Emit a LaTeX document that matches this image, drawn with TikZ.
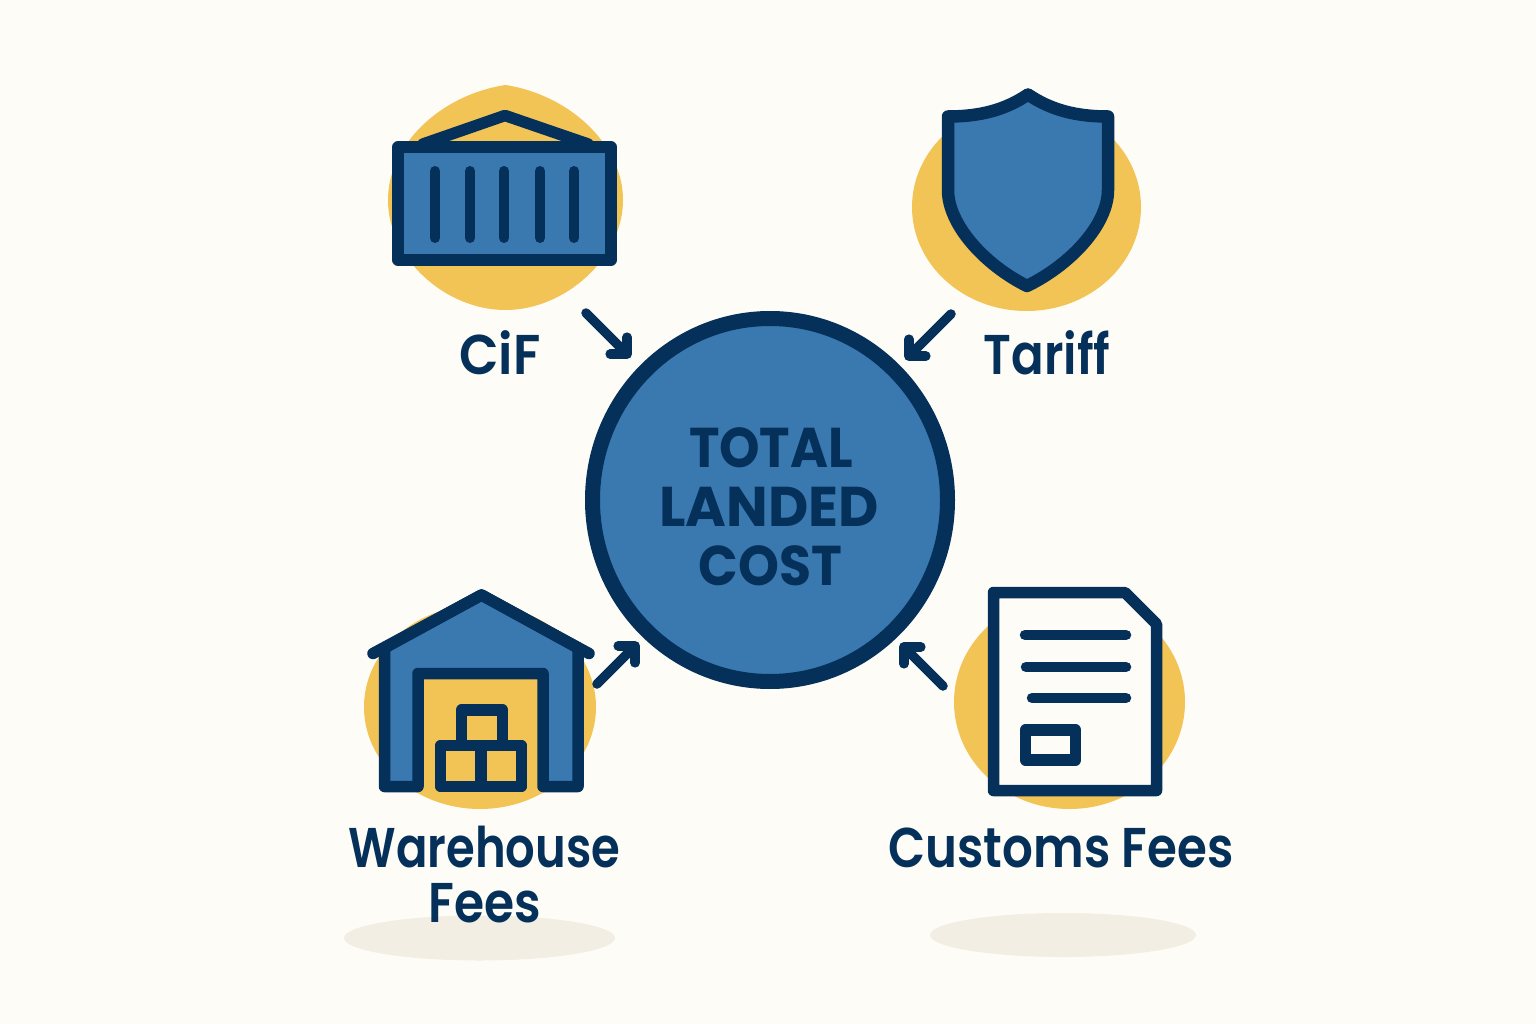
\documentclass[tikz,border=0pt]{standalone}
\usepackage{fontspec}
\usetikzlibrary{arrows.meta,shapes.geometric}
\newfontfamily\lab{Poppins SemiBold}
\newfontfamily\tit{Poppins}[BoldFont={Poppins Bold}]
\definecolor{bgc}{HTML}{FEFCF6}
\definecolor{yel}{HTML}{F2C355}
\definecolor{blu}{HTML}{3A78B0}
\definecolor{nav}{HTML}{04305A}
\definecolor{shd}{HTML}{F3EEE3}
\tikzset{
  icon/.style={draw=nav,line width=11.5pt,line join=round,line cap=round},
  blob/.style={fill=yel,draw=none},
  shadowblob/.style={fill=shd,draw=none},
  lbl/.style={text=nav,anchor=base,inner sep=0pt,font=\lab\fontsize{56}{60}\selectfont},
  ttl/.style={text=nav,anchor=base,inner sep=0pt,font=\tit\bfseries\fontsize{56}{60}\selectfont},
  flow/.style={draw=nav,line width=9.5pt,line cap=round,line join=round,-{Straight Barb[round,length=12pt,width=24pt]}}
}
\begin{document}
\begin{tikzpicture}[x=1pt,y=-1pt]
\useasboundingbox (0,0) rectangle (1536,1024);
\fill[bgc] (0,0) rectangle (1536,1024);
% shadows
\fill[shadowblob] (479.5,938) ellipse [x radius=135.5,y radius=22.5];
\fill[shadowblob] (1063,935) ellipse [x radius=133,y radius=22];
% yellow blobs
\fill[blob] (505.5,85) .. controls (570,95) and (623,145) .. (623,200) .. controls (623,258) and (565,310) .. (505.5,310) .. controls (445,310) and (388,258) .. (388,200) .. controls (388,145) and (440,95) .. cycle;
\fill[blob] (1026.5,207) ellipse [x radius=114.5,y radius=104];
\fill[blob] (480,707) ellipse [x radius=116,y radius=102];
\fill[blob] (1069.5,702) ellipse [x radius=115.5,y radius=107];
% container
\draw[icon,fill=none] (423,144) -- (505,115.5) -- (588,144);
\draw[icon,fill=blu,line cap=butt] (398,147) rectangle (611,260);
\foreach \rx in {435,470,504,540,574}
  \draw[icon,line width=10pt] (\rx,171) -- (\rx,238);
% shield
\draw[icon,line width=12.5pt,fill=blu] (1028,94.5) .. controls (1005,110) and (980,116.5) .. (948,116.5) -- (948,190) .. controls (948,225) and (985,265) .. (1027,286) .. controls (1070,265) and (1108,225) .. (1108,190) -- (1108,116.5) .. controls (1076,116.5) and (1051,110) .. cycle;
% warehouse
\fill[yel] (418,673.5) rectangle (543,786.5);
\draw[icon,fill=blu] (384.5,786.5) -- (418,786.5) -- (418,673.5) -- (543,673.5) -- (543,786.5) -- (578,786.5) -- (578,648) -- (481.5,595) -- (384.5,648) -- cycle;
\draw[icon] (373,653.5) -- (481.5,595) -- (589,653.5);
\draw[icon,fill=yel] (461.5,710) rectangle (502.5,745.5);
\draw[icon,fill=yel] (440.5,745.5) rectangle (521.5,786.5);
\draw[icon,line cap=butt] (481,745.5) -- (481,786.5);
% document
\draw[icon,fill=bgc] (993.5,592.5) -- (1125,592.5) -- (1156.5,624) -- (1156.5,790.5) -- (993.5,790.5) -- cycle;
\draw[icon,line width=10.5pt] (1025,635) -- (1126,635);
\draw[icon,line width=10.5pt] (1026,667) -- (1126,667);
\draw[icon,line width=10.5pt] (1032,698) -- (1126,698);
\draw[icon,fill=bgc] (1025.5,730) rectangle (1075.5,760);
% hub
\node[ellipse,draw=nav,fill=blu,line width=15pt,inner sep=0pt,minimum width=355pt,minimum height=363pt] (total) at (770,500) {};
\node[ttl,xscale=.92] (t1) at (771,467) {TOTAL};
\node[ttl,xscale=.99] (t2) at (769,526) {LANDED};
\node[ttl,xscale=.93] (t3) at (770.5,585) {COST};
% labels
\node[lbl,xscale=.92] (cif) at (500,374) {CiF};
\node[lbl,xscale=.86] (tariff) at (1047,374) {Tariff};
\node[lbl,xscale=.83] (wh) at (484.5,867) {Warehouse};
\node[lbl,xscale=.87] (fees) at (485,922) {Fees};
\node[lbl,xscale=.863] (cust) at (1061,867) {Customs Fees};
% connectors
\coordinate (a1s) at (586,313); \coordinate (a1e) at (630.5,357.5);
\coordinate (a2s) at (951,314); \coordinate (a2e) at (905.5,359.5);
\coordinate (a3s) at (597,684); \coordinate (a3e) at (638.5,642.5);
\coordinate (a4s) at (943,686); \coordinate (a4e) at (900.5,643.5);
\draw[flow] (a1s) -- (a1e);
\draw[flow] (a2s) -- (a2e);
\draw[flow] (a3s) -- (a3e);
\draw[flow] (a4s) -- (a4e);
\end{tikzpicture}
\end{document}
